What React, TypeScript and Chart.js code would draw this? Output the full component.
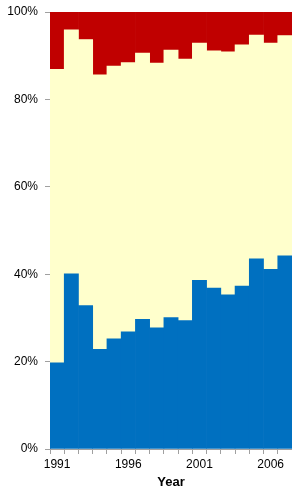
import React, { useEffect, useRef } from "react";
import { Chart, registerables } from "chart.js";

Chart.register(...registerables);

const years = ["1991","1992","1993","1994","1995","1996","1997","1998","1999","2000","2001","2002","2003","2004","2005","2006","2007"];
const shownYears = ["1991", "1996", "2001", "2006"];
const blueShare = [19.7, 40.1, 32.8, 22.8, 25.2, 26.8, 29.7, 27.7, 30.1, 29.4, 38.6, 36.8, 35.3, 37.3, 43.5, 41.1, 44.2];
const yellowShare = [67.2, 55.8, 60.9, 62.8, 62.4, 61.6, 60.9, 60.6, 61.2, 59.8, 54.3, 54.3, 55.6, 55.2, 51.2, 51.8, 50.4];
const redShare = [13.1, 4.1, 6.3, 14.4, 12.4, 11.6, 9.4, 11.7, 8.7, 10.8, 7.1, 8.9, 9.1, 7.5, 5.3, 7.1, 5.4];
const yTicks = [0, 20, 40, 60, 80, 100];

export default function App() {
  const ref = useRef<HTMLCanvasElement>(null);
  useEffect(() => {
    document.body.style.margin = "0";
    const ctx = ref.current!;
    const font = { family: "'Liberation Sans', Arial, sans-serif", size: 12 };
    const chart = new Chart(ctx, {
      type: "bar",
      data: {
        labels: years,
        datasets: [
          { label: "blue", data: blueShare, backgroundColor: "#0070C0", borderWidth: 0, barPercentage: 1, categoryPercentage: 1 },
          { label: "yellow", data: yellowShare, backgroundColor: "#FFFFCC", borderWidth: 0, barPercentage: 1, categoryPercentage: 1 },
          { label: "red", data: redShare, backgroundColor: "#C00000", borderWidth: 0, barPercentage: 1, categoryPercentage: 1 },
        ],
      },
      options: {
        animation: false,
        responsive: false,
        maintainAspectRatio: false,
        events: [],
        layout: { padding: { top: 0, right: 0, bottom: 0, left: 0 } },
        plugins: { legend: { display: false }, tooltip: { enabled: false } },
        scales: {
          x: {
            stacked: true,
            offset: true,
            afterFit: (s: any) => { s.height = 40; },
            grid: { offset: true, drawOnChartArea: false, drawTicks: true, tickLength: 5, color: "#A0A0A0" },
            border: { color: "#A0A0A0" },
            ticks: {
              autoSkip: false,
              maxRotation: 0,
              padding: 3,
              color: "#000",
              font,
              callback: (v: any, i: number) => (shownYears.includes(years[i]) ? years[i] : ""),
            },
            title: { display: true, text: "Year", color: "#000", font: { family: "'Liberation Sans', Arial, sans-serif", size: 13, weight: "bold", lineHeight: 1 }, padding: { top: 0, bottom: 0 } },
          },
          y: {
            stacked: true,
            min: 0,
            max: 100,
            afterFit: (s: any) => { s.width = 50; s.paddingTop = 12; },
            afterBuildTicks: (s: any) => { s.ticks = yTicks.map((v) => ({ value: v })); },
            grid: { drawOnChartArea: false, drawTicks: true, tickLength: 5, color: "#A0A0A0" },
            border: { color: "#A0A0A0" },
            ticks: { padding: 7, color: "#000", font, callback: (v: any) => v + "%" },
          },
        },
      },
    });
    return () => chart.destroy();
  }, []);
  return <canvas ref={ref} width={292} height={489} style={{ display: "block", width: 292, height: 489 }} />;
}
